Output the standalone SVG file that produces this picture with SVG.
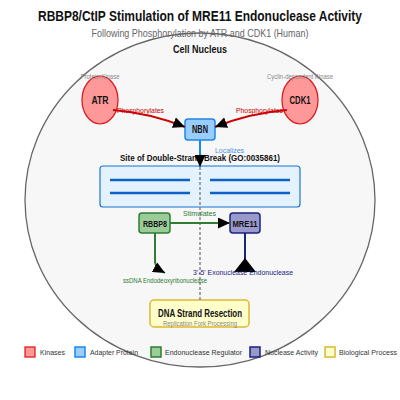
<svg xmlns="http://www.w3.org/2000/svg" width="400" height="400" viewBox="0 0 400 400">
<style>
text{font-family:"Liberation Sans",Arial,sans-serif}
.b{font-weight:bold;fill:#111}
.kin{fill:#ff9999;stroke:#dd1111;stroke-width:1.2}
.ada{fill:#99ccff;stroke:#1e88e5;stroke-width:1.5}
.reg{fill:#99cc99;stroke:#2e7d32;stroke-width:1.5}
.nuc{fill:#9999cc;stroke:#1a237e;stroke-width:1.5}
.bio{fill:#ffffcc;stroke:#e0b830;stroke-width:1.5}
.sm{fill:#888;font-size:7px}
.lg{fill:#333;font-size:8px}
.c{fill:none;stroke-width:2}
</style>
<defs>
<marker id="ah" viewBox="0 0 12 11" refX="12" refY="5.5" markerWidth="12" markerHeight="11" markerUnits="userSpaceOnUse" orient="auto"><path d="M0,0 L12,5.5 L0,11 z" fill="#000"/></marker>
<marker id="ahw" viewBox="0 0 14 22" refX="14" refY="11" markerWidth="14" markerHeight="22" markerUnits="userSpaceOnUse" orient="auto"><path d="M0,0 L14,11 L0,22 z" fill="#000"/></marker>
</defs>
<rect width="400" height="400" fill="#fff"/>
<text x="200" y="21" text-anchor="middle" class="b" font-size="14" textLength="324" lengthAdjust="spacingAndGlyphs">RBBP8/CtIP Stimulation of MRE11 Endonuclease Activity</text>
<g id="nucleus">
<ellipse cx="200" cy="200" rx="175" ry="167" fill="#f7f7f7" stroke="#666" stroke-width="1.3"/>
<text x="200" y="53" text-anchor="middle" class="b" font-size="10" textLength="54" lengthAdjust="spacingAndGlyphs">Cell Nucleus</text>
</g>
<text x="200" y="37" text-anchor="middle" fill="#666" font-size="10.5" textLength="217" lengthAdjust="spacingAndGlyphs">Following Phosphorylation by ATR and CDK1 (Human)</text>
<g id="ATR">
<ellipse cx="100" cy="100" rx="18" ry="24" class="kin"/>
<text x="100" y="79" text-anchor="middle" class="sm" textLength="39" lengthAdjust="spacingAndGlyphs">Protein Kinase</text>
<text x="100" y="104" text-anchor="middle" class="b" font-size="10" textLength="17" lengthAdjust="spacingAndGlyphs">ATR</text>
</g>
<g id="CDK1">
<ellipse cx="300" cy="100" rx="18" ry="24" class="kin"/>
<text x="300" y="79" text-anchor="middle" class="sm" textLength="66" lengthAdjust="spacingAndGlyphs">Cyclin-dependent Kinase</text>
<text x="300" y="104" text-anchor="middle" class="b" font-size="10" textLength="21" lengthAdjust="spacingAndGlyphs">CDK1</text>
</g>
<g id="NBN">
<rect x="185" y="119" width="30" height="21" rx="3" class="ada"/>
<text x="200" y="133" text-anchor="middle" class="b" font-size="10" textLength="16" lengthAdjust="spacingAndGlyphs">NBN</text>
</g>
<g id="DSB">
<text x="200" y="161" text-anchor="middle" class="b" font-size="9" textLength="160" lengthAdjust="spacingAndGlyphs">Site of Double-Strand Break (GO:0035861)</text>
<rect x="100" y="166" width="200" height="41" rx="3" fill="#e3f2fd" stroke="#1976d2" stroke-width="1.2"/>
<g stroke="#0d62c9" stroke-width="2.5">
<path d="M110,180 H190 M110,193 H190 M210,180 H290 M210,193 H290"/>
</g>
</g>
<g id="RBBP8">
<rect x="139" y="213" width="31" height="20" rx="3" class="reg"/>
<text x="155" y="227" text-anchor="middle" class="b" font-size="9" textLength="24" lengthAdjust="spacingAndGlyphs">RBBP8</text>
</g>
<g id="MRE11">
<rect x="230" y="213" width="30" height="20" rx="3" class="nuc"/>
<text x="245" y="227" text-anchor="middle" class="b" font-size="9" textLength="25" lengthAdjust="spacingAndGlyphs">MRE11</text>
</g>
<g id="resection">
<rect x="150" y="300" width="99" height="27" rx="4" class="bio"/>
<text x="200" y="317" text-anchor="middle" class="b" font-size="10" textLength="84" lengthAdjust="spacingAndGlyphs">DNA Strand Resection</text>
<text x="200" y="326" text-anchor="middle" class="sm" textLength="74" lengthAdjust="spacingAndGlyphs">Replication Fork Processing</text>
</g>
<g id="connectors">
<path d="M113,110 Q150,113 185,127" class="c" stroke="#cc0000" marker-end="url(#ah)"/>
<path d="M287,110 Q250,113 215,127" class="c" stroke="#cc0000" marker-end="url(#ah)"/>
<path d="M200,140 V167" class="c" stroke="#1e88e5" marker-end="url(#ah)"/>
<path d="M200,167 V300" fill="none" stroke="#888" stroke-width="1.5" stroke-dasharray="3,2"/>
<path d="M170,223 H230" class="c" stroke="#2e7d32" marker-end="url(#ah)"/>
<path d="M155,233 V262 Q156,268 165,273" class="c" stroke="#2e7d32" marker-end="url(#ah)"/>
<path d="M245,233 V272 V258" class="c" stroke="#1a237e" marker-end="url(#ahw)"/>
<text x="140.5" y="113" text-anchor="middle" fill="#cc0000" font-size="8" textLength="47" lengthAdjust="spacingAndGlyphs">Phosphorylates</text>
<text x="259.5" y="113" text-anchor="middle" fill="#cc0000" font-size="8" textLength="47" lengthAdjust="spacingAndGlyphs">Phosphorylates</text>
<text x="229.5" y="153" text-anchor="middle" fill="#4a90e2" font-size="8" textLength="29" lengthAdjust="spacingAndGlyphs">Localizes</text>
<text x="199.5" y="216" text-anchor="middle" fill="#2e7d32" font-size="8" textLength="33" lengthAdjust="spacingAndGlyphs">Stimulates</text>
<text x="165" y="283" text-anchor="middle" fill="#2e7d32" font-size="7.5" textLength="84" lengthAdjust="spacingAndGlyphs">ssDNA Endodeoxyribonuclease</text>
<text x="243" y="275" text-anchor="middle" fill="#1a237e" font-size="8" textLength="100" lengthAdjust="spacingAndGlyphs">3'-5' Exonuclease Endonuclease</text>
</g>
<g id="legend">
<rect x="25" y="347" width="10" height="10" class="kin"/>
<text x="40" y="355" class="lg" textLength="25" lengthAdjust="spacingAndGlyphs">Kinases</text>
<rect x="75" y="347" width="10" height="10" class="ada"/>
<text x="90" y="355" class="lg" textLength="48" lengthAdjust="spacingAndGlyphs">Adapter Protein</text>
<rect x="151" y="347" width="10" height="10" class="reg"/>
<text x="165" y="355" class="lg" textLength="77" lengthAdjust="spacingAndGlyphs">Endonuclease Regulator</text>
<rect x="250" y="347" width="10" height="10" class="nuc"/>
<text x="265" y="355" class="lg" textLength="53" lengthAdjust="spacingAndGlyphs">Nuclease Activity</text>
<rect x="325" y="347" width="10" height="10" class="bio"/>
<text x="339" y="355" class="lg" textLength="58" lengthAdjust="spacingAndGlyphs">Biological Process</text>
</g>
</svg>
